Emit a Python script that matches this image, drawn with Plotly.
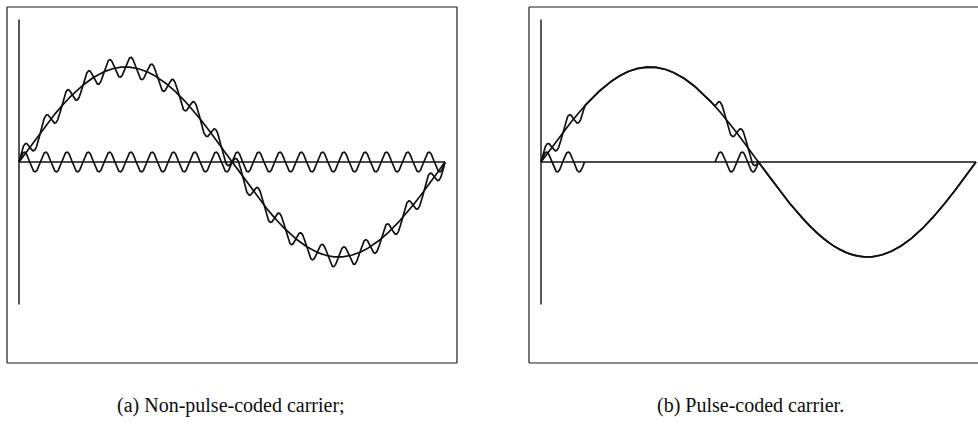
import numpy as np
import plotly.graph_objects as go

# Waveform parameters (time normalised to one period of the message signal)
signal_amplitude = 1.0
carrier_amplitude = 0.105
carrier_cycles = 20
burst_windows = [(0.0, 0.1), (0.4, 0.5)]   # intervals where the pulsed carrier is on
axis_half_height = 1.5

captions = ["(a) Non-pulse-coded carrier;", "(b) Pulse-coded carrier."]

W, H = 978, 426
t = np.linspace(0.0, 1.0, 4001)
signal = signal_amplitude * np.sin(2 * np.pi * t)
carrier = carrier_amplitude * np.sin(2 * np.pi * carrier_cycles * t)

gate = np.zeros_like(t, dtype=bool)
for a, b in burst_windows:
    gate |= (t >= a) & (t <= b)
pulsed = np.where(gate, carrier, np.nan)
pulsed_sum = signal + np.where(gate, carrier, 0.0)

# Pixel layout of the two framed panels
panels = [
    dict(box=(7, 457), origin=19, end=445),
    dict(box=(529, 978), origin=541, end=976),
]
box_top, box_bottom = 7, 363
zero_px, unit_px = 162, 95

fig = go.Figure()
ink = "#101010"
line_w = 1.7

def add_panel(i, traces):
    xs = "x" if i == 0 else "x2"
    ys = "y" if i == 0 else "y2"
    for x, y in traces:
        fig.add_trace(go.Scatter(x=x, y=y, mode="lines", xaxis=xs, yaxis=ys,
                                 line=dict(color=ink, width=line_w),
                                 showlegend=False, hoverinfo="skip"))
    # axes: vertical at t=0 and horizontal zero line
    fig.add_trace(go.Scatter(x=[0, 0], y=[axis_half_height, -axis_half_height], mode="lines",
                             xaxis=xs, yaxis=ys, line=dict(color=ink, width=1.4),
                             showlegend=False, hoverinfo="skip"))
    fig.add_trace(go.Scatter(x=[0, 1], y=[0, 0], mode="lines",
                             xaxis=xs, yaxis=ys, line=dict(color=ink, width=1.4),
                             showlegend=False, hoverinfo="skip"))

add_panel(0, [(t, signal), (t, carrier), (t, signal + carrier)])
add_panel(1, [(t, signal), (t, pulsed), (t, pulsed_sum)])

layout = dict(width=W, height=H, margin=dict(l=0, r=0, t=0, b=0),
              paper_bgcolor="white", plot_bgcolor="white")
for i, p in enumerate(panels):
    x0, x1 = p["box"]
    scale = p["end"] - p["origin"]
    xr = [(x0 - p["origin"]) / scale, 1 + (x1 - p["end"]) / scale]
    yr = [-(box_bottom - zero_px) / unit_px, (zero_px - box_top) / unit_px]
    ax = dict(domain=[x0 / W, x1 / W], range=xr, visible=False, fixedrange=True)
    ay = dict(domain=[(H - box_bottom) / H, (H - box_top) / H], range=yr,
              visible=False, fixedrange=True)
    suffix = "" if i == 0 else "2"
    if i == 1:
        ax["anchor"] = "y2"
        ay["anchor"] = "x2"
    layout["xaxis" + suffix] = ax
    layout["yaxis" + suffix] = ay
fig.update_layout(**layout)

# Frames around each panel
frame = "#1a1a1a"
for i, p in enumerate(panels):
    x0, x1 = p["box"]
    px0, px1 = x0 / W, x1 / W
    py0, py1 = (H - box_bottom) / H, (H - box_top) / H
    sides = [(px0, py0, px0, py1), (px0, py1, px1, py1), (px0, py0, px1, py0)]
    if i == 0:
        sides.append((px1, py0, px1, py1))
    for a, b, c, d in sides:
        fig.add_shape(type="line", xref="paper", yref="paper", x0=a, y0=b, x1=c, y1=d,
                      line=dict(color=frame, width=1.2))

# Captions
for i, text in enumerate(captions):
    cx = (231 if i == 0 else 750) / W
    fig.add_annotation(text=text, x=cx, y=(H - 405) / H, xref="paper", yref="paper",
                       xanchor="center", yanchor="middle", showarrow=False,
                       font=dict(family="Liberation Serif", size=20, color="#0d0d0d"))

fig.write_html("out.html")
